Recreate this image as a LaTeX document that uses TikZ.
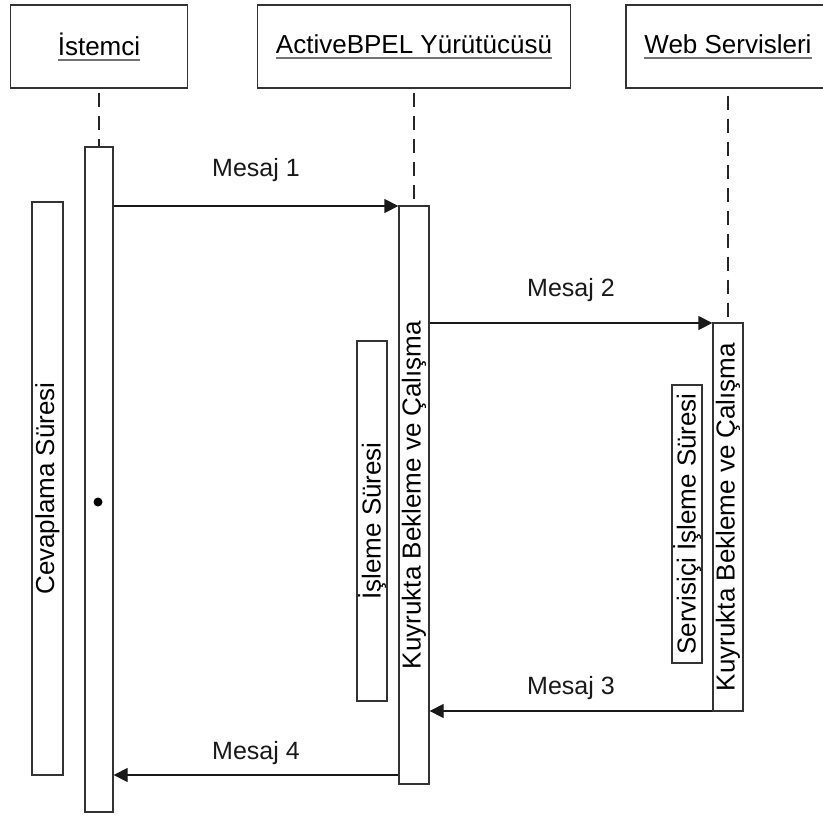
\documentclass[tikz,border=0pt]{standalone}
\usepackage{fontspec}
\setmainfont{Liberation Sans}
\usetikzlibrary{arrows.meta}

\newcommand{\headtext}[1]{\setbox0\hbox{#1}\rlap{\color{black!55}\rule[-5.5pt]{\wd0}{1.8pt}}\box0}

\begin{document}
\begin{tikzpicture}[x=1pt,y=-1pt,line width=1.3pt,inner sep=0pt,
  head node/.style={rectangle,draw=black!80,minimum height=83pt,font=\fontsize{26}{30}\selectfont},
  bar node/.style={rectangle,draw=black!80,fill=white,minimum width=30pt},
  time node/.style={rectangle,draw=black!80,minimum width=30pt},
  side text/.style={rotate=90,font=\fontsize{26}{30}\selectfont},
  life line/.style={black!85,dash pattern=on 14pt off 9pt,shorten <=4pt},
  msg/.style={-{Triangle[length=14pt,width=14pt]},black!90},
  msg text/.style={font=\fontsize{25}{30}\selectfont}]

  \clip (0,0) rectangle (823,817);

  % lifeline heads
  \node[head node,minimum width=176.5pt] (h1) at (99,46.5) {\headtext{İstemci}};
  \node[head node,minimum width=313.6pt] (h2) at (414,46.5) {\headtext{ActiveBPEL Yürütücüsü}};
  \node[head node,minimum width=204pt] (h3) at (728,46.5) {\headtext{Web Servisleri}};

  % activation bars
  \node[bar node,minimum width=28pt,minimum height=665pt] (b1) at (99,479.5) {};
  \node[bar node,minimum height=578pt] (b2) at (414,495) {};
  \node[bar node,minimum height=388pt] (b3) at (728,517) {};

  \draw[life line] (h1.south) -- (b1.north);
  \draw[life line] (h2.south) -- (b2.north);
  \draw[life line,shorten <=7pt] (h3.south) -- (b3.north);

  \node[side text] (q2) at (b2) {Kuyrukta Bekleme ve Çalışma};
  \node[side text] (q3) at (b3) {Kuyrukta Bekleme ve Çalışma};

  % time spans
  \node[time node,minimum width=31pt,minimum height=573pt] (t1) at (47.5,488.5) {};
  \node[side text] at (t1) {Cevaplama Süresi};
  \node[time node,minimum height=360pt] (t2) at (372,521) {};
  \node[side text] at (t2) {İşleme Süresi};
  \node[time node,minimum height=278pt] (t3) at (687,524) {};
  \node[side text] at (t3) {Servisiçi İşleme Süresi};

  \coordinate (dot) at (98,502);
  \fill (dot) circle (4.5pt);

  % messages
  \coordinate (m1) at (0,206);
  \coordinate (m2) at (0,323);
  \coordinate (m3) at (0,711);
  \coordinate (m4) at (0,775);
  \draw[msg] (b1.east |- m1) -- (b2.west |- m1) node[msg text,midway,above=24pt] {Mesaj 1};
  \draw[msg] (b2.east |- m2) -- (b3.west |- m2) node[msg text,midway,above=21pt] {Mesaj 2};
  \draw[msg] (b3.west |- m3) -- (b2.east |- m3) node[msg text,midway,above=11pt] {Mesaj 3};
  \draw[msg] (b2.west |- m4) -- (b1.east |- m4) node[msg text,midway,above=10pt] {Mesaj 4};
\end{tikzpicture}
\end{document}
